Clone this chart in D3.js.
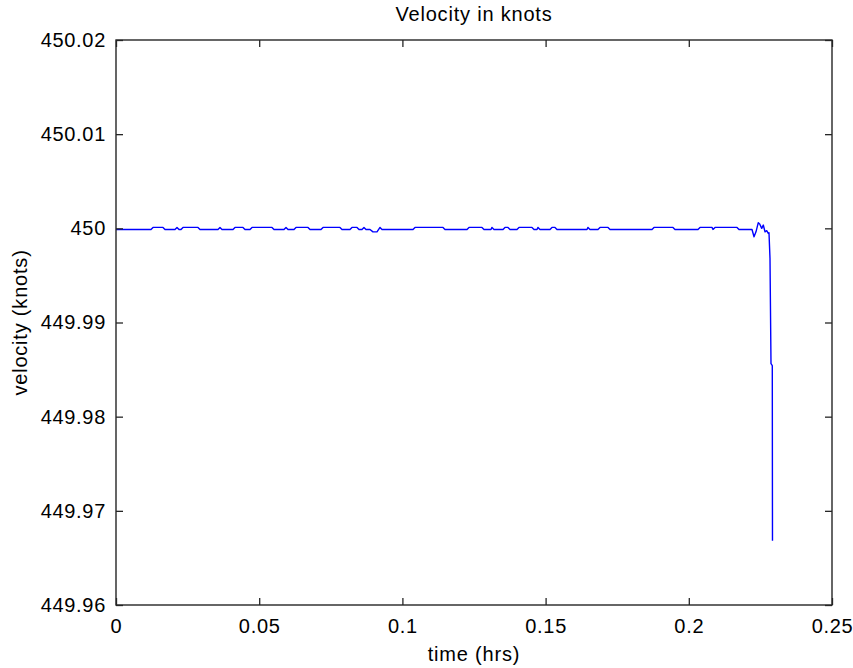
<!DOCTYPE html>
<html>
<head>
<meta charset="utf-8">
<script src="https://cdn.jsdelivr.net/npm/d3@7"></script>
<style>
  html, body { margin: 0; padding: 0; background: #ffffff; }
  svg { display: block; }
  text { font-family: "Liberation Sans", Arial, sans-serif; fill: #000; }
</style>
</head>
<body>
<svg id="chart" width="853" height="668"></svg>
<script>
// ---- data ----
const chartTitle = "Velocity in knots";
const xLabel = "time (hrs)";
const yLabel = "velocity (knots)";

const xTickValues = [0, 0.05, 0.1, 0.15, 0.2, 0.25];
const xTickLabels = ["0", "0.05", "0.1", "0.15", "0.2", "0.25"];
const yTickValues = [449.96, 449.97, 449.98, 449.99, 450, 450.01, 450.02];
const yTickLabels = ["449.96", "449.97", "449.98", "449.99", "450", "450.01", "450.02"];

const timeHrs = [
  0, 0.01222, 0.01292, 0.01641, 0.01711, 0.02060, 0.02130, 0.02200, 0.02270, 0.02339,
  0.02863, 0.02933, 0.03561, 0.03631, 0.03701, 0.04085, 0.04155, 0.04434, 0.04504, 0.04679,
  0.04749, 0.05447, 0.05517, 0.05866, 0.05936, 0.06006, 0.06215, 0.06285, 0.06704, 0.06774,
  0.07158, 0.07228, 0.07821, 0.07891, 0.08170, 0.08240, 0.08415, 0.08485, 0.08589, 0.08659,
  0.08729, 0.08869, 0.08973, 0.09113, 0.09218, 0.09288, 0.10370, 0.10440, 0.11418, 0.11487,
  0.12256, 0.12325, 0.12779, 0.12849, 0.13093, 0.13128, 0.13198, 0.13513, 0.13582, 0.13687,
  0.13757, 0.14001, 0.14071, 0.14525, 0.14595, 0.14700, 0.14735, 0.14804, 0.15154, 0.15223,
  0.15328, 0.15398, 0.16445, 0.16480, 0.16550, 0.16829, 0.16899, 0.17179, 0.17249, 0.18715,
  0.18785, 0.19448, 0.19518, 0.20321, 0.20391, 0.20810, 0.20845, 0.20915, 0.21683, 0.21753,
  0.22207, 0.22277, 0.22346, 0.22426, 0.22475, 0.22546, 0.22601, 0.22661, 0.22720, 0.22776,
  0.22800, 0.22835, 0.22870, 0.22915, 0.22922
];

const velocityKnots = [
  449.99988, 449.99988, 450.00010, 450.00010, 449.99988, 449.99988, 450.00010, 449.99988, 449.99988, 450.00010,
  450.00010, 449.99988, 449.99988, 450.00010, 449.99988, 449.99988, 450.00010, 450.00010, 449.99988, 449.99988,
  450.00010, 450.00010, 449.99988, 449.99988, 450.00010, 449.99988, 449.99988, 450.00010, 450.00010, 449.99988,
  449.99988, 450.00010, 450.00010, 449.99988, 449.99988, 450.00010, 450.00010, 449.99988, 449.99988, 450.00010,
  449.99988, 449.99988, 449.99962, 449.99962, 450.00010, 449.99988, 449.99988, 450.00010, 450.00010, 449.99988,
  449.99988, 450.00010, 450.00010, 449.99988, 449.99988, 450.00010, 449.99988, 449.99988, 450.00010, 450.00010,
  449.99988, 449.99988, 450.00010, 450.00010, 449.99988, 449.99988, 450.00010, 449.99988, 449.99988, 450.00010,
  450.00010, 449.99988, 449.99988, 450.00010, 449.99988, 449.99988, 450.00010, 450.00010, 449.99988, 449.99988,
  450.00010, 450.00010, 449.99988, 449.99988, 450.00010, 450.00010, 449.99988, 450.00010, 450.00010, 449.99988,
  449.99988, 449.99911, 449.99963, 450.00060, 450.00046, 450.00000, 450.00035, 449.99963, 449.99975, 449.99947,
  449.99953, 449.99683, 449.98563, 449.98543, 449.96683
];

// ---- layout ----
const W = 853, H = 668;
const margin = { left: 116, top: 40, right: 21, bottom: 63 };
const plotW = W - margin.left - margin.right;
const plotH = H - margin.top - margin.bottom;

const svg = d3.select("#chart");
svg.append("rect").attr("width", W).attr("height", H).attr("fill", "#fff");

const x = d3.scaleLinear().domain([0, 0.25]).range([0, plotW]);
const y = d3.scaleLinear().domain([449.96, 450.02]).range([plotH, 0]);

const g = svg.append("g").attr("transform", `translate(${margin.left},${margin.top})`);

const data = timeHrs.map((t, i) => ({ t, v: velocityKnots[i] }));

// data line
const line = d3.line().x(d => x(d.t)).y(d => y(d.v));
g.append("path")
  .datum(data)
  .attr("fill", "none")
  .attr("stroke", "#0000ff")
  .attr("stroke-width", 1.4)
  .attr("stroke-linejoin", "round")
  .attr("d", line);

const tickLen = 7;
const axisColor = "#262626";
const labelStyle = sel => sel.selectAll("text")
  .attr("font-size", "20px")
  .style("letter-spacing", "0.7px")
  .attr("fill", "#000");

// bottom axis
const xAxis = g.append("g").attr("transform", `translate(0,${plotH})`)
  .call(d3.axisBottom(x).tickValues(xTickValues)
    .tickFormat((d, i) => xTickLabels[i])
    .tickSizeInner(-tickLen).tickSizeOuter(0).tickPadding(14));
labelStyle(xAxis);

// top axis (ticks only)
const xAxisTop = g.append("g")
  .call(d3.axisTop(x).tickValues(xTickValues).tickFormat("")
    .tickSizeInner(-tickLen).tickSizeOuter(0));

// left axis
const yAxis = g.append("g")
  .call(d3.axisLeft(y).tickValues(yTickValues)
    .tickFormat((d, i) => yTickLabels[i])
    .tickSizeInner(-tickLen).tickSizeOuter(0).tickPadding(10));
labelStyle(yAxis);

// right axis (ticks only)
const yAxisRight = g.append("g").attr("transform", `translate(${plotW},0)`)
  .call(d3.axisRight(y).tickValues(yTickValues).tickFormat("")
    .tickSizeInner(-tickLen).tickSizeOuter(0));

[xAxis, xAxisTop, yAxis, yAxisRight].forEach(a => {
  a.select(".domain").remove();
  a.selectAll(".tick line").attr("stroke", axisColor).attr("stroke-width", 1.3);
});

// box
g.append("rect")
  .attr("x", 0).attr("y", 0)
  .attr("width", plotW).attr("height", plotH)
  .attr("fill", "none")
  .attr("stroke", axisColor)
  .attr("stroke-width", 1.4);

// title
svg.append("text")
  .attr("x", margin.left + plotW / 2)
  .attr("y", 21)
  .attr("text-anchor", "middle")
  .attr("font-size", "20px")
  .style("letter-spacing", "0.8px")
  .text(chartTitle);

// x label
svg.append("text")
  .attr("x", margin.left + plotW / 2)
  .attr("y", 661)
  .attr("text-anchor", "middle")
  .attr("font-size", "20px")
  .style("letter-spacing", "0.8px")
  .text(xLabel);

// y label
svg.append("text")
  .attr("transform", `translate(27,${margin.top + plotH / 2}) rotate(-90)`)
  .attr("text-anchor", "middle")
  .attr("font-size", "20px")
  .style("letter-spacing", "0.8px")
  .text(yLabel);
</script>
</body>
</html>
